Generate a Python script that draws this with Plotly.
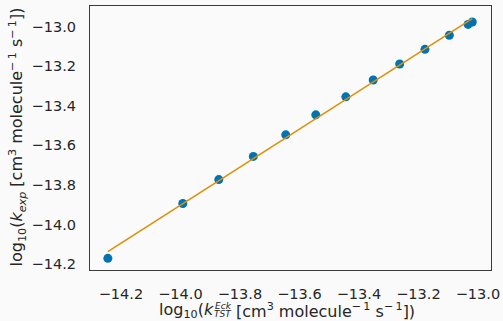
import numpy as np
import plotly.graph_objects as go

# data
log_k_tst = [-14.244, -13.992, -13.871, -13.755, -13.646, -13.545, -13.444,
             -13.352, -13.263, -13.178, -13.096, -13.033, -13.019]
log_k_exp = [-14.171, -13.894, -13.773, -13.656, -13.547, -13.446, -13.355,
             -13.270, -13.189, -13.115, -13.044, -12.989, -12.977]
x_ticks = [-14.2, -14.0, -13.8, -13.6, -13.4, -13.2, -13.0]
y_ticks = [-14.2, -14.0, -13.8, -13.6, -13.4, -13.2, -13.0]

def fmt(v):
    return ("\u2212" if v < 0 else "") + f"{abs(v):.1f}"

slope, intercept = np.polyfit(log_k_tst, log_k_exp, 1)
xfit = np.array([min(log_k_tst), max(log_k_tst)])
yfit = slope * xfit + intercept

L, R, T, B = 90, 12, 6, 51
W, H = 503, 321
PW, PH = W - L - R, H - T - B

def px(xp):
    return (xp - L) / PW

def py(yp):
    return (H - B - yp) / PH

fig = go.Figure()
fig.add_trace(go.Scatter(x=log_k_tst, y=log_k_exp, mode="markers",
                         marker=dict(color="#0173b2", size=9, line=dict(width=0)),
                         showlegend=False))
fig.add_trace(go.Scatter(x=xfit, y=yfit, mode="lines",
                         line=dict(color="#de8f05", width=1.5),
                         showlegend=False))

tick_font = dict(family="DejaVu Sans", size=14.5, color="#262626")
title_font = dict(family="DejaVu Sans", size=16, color="#262626")
small = dict(family="DejaVu Sans", size=9, color="#262626")
fig.update_layout(
    width=W, height=H,
    margin=dict(l=L, r=R, t=T, b=B),
    paper_bgcolor="#fafafa", plot_bgcolor="#fafafa",
    font=tick_font,
    xaxis=dict(range=[-14.304, -12.956], tickvals=x_ticks,
               ticktext=[fmt(v) for v in x_ticks], automargin=False,
               showgrid=False, zeroline=False, showline=True, mirror=True,
               linecolor="#3a3a3a", linewidth=1.25, ticks="", ticklen=0,
               ticklabelstandoff=10, fixedrange=True),
    yaxis=dict(range=[-14.23, -12.896], tickvals=y_ticks,
               ticktext=[fmt(v) for v in y_ticks], automargin=False,
               showgrid=False, zeroline=False, showline=True, mirror=True,
               linecolor="#3a3a3a", linewidth=1.25, ticks="", ticklen=0,
               ticklabelstandoff=10, fixedrange=True),
)

SUPM1 = "<sup>\u2212\u20091</sup>"
ann = dict(xref="paper", yref="paper", showarrow=False, borderpad=0, borderwidth=0)

# y-axis title
fig.add_annotation(**ann, x=px(17), y=py(137.5),
                   text="log<sub>10</sub>(<i>k<sub>exp</sub></i> [cm<sup>3</sup> molecule"
                        + SUPM1 + " s" + SUPM1 + "])",
                   textangle=-90, font=title_font, xanchor="center", yanchor="middle")

# x-axis title, split so that the super/subscripts stack
ymain = py(310.5)
fig.add_annotation(**ann, x=px(214), y=ymain, text="log<sub>10</sub>(<i>k</i>",
                   font=title_font, xanchor="right", yanchor="middle")
fig.add_annotation(**ann, x=px(215), y=py(305.5), text="<i>Eck</i>",
                   font=small, xanchor="left", yanchor="middle")
fig.add_annotation(**ann, x=px(214), y=py(314), text="<i>TST</i>",
                   font=small, xanchor="left", yanchor="middle")
fig.add_annotation(**ann, x=px(236), y=ymain,
                   text="[cm<sup>3</sup> molecule" + SUPM1 + " s" + SUPM1 + "])",
                   font=title_font, xanchor="left", yanchor="middle")

fig.write_html("out.html", config={"displayModeBar": False},
               post_script="document.body.style.margin='0';document.body.style.padding='0';document.body.style.background='#fafafa';")
